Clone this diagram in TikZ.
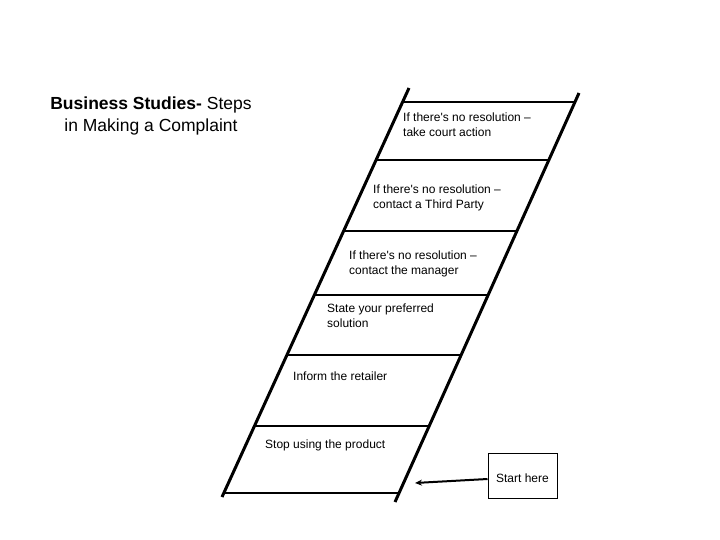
\documentclass[tikz,border=0pt]{standalone}
\usepackage{fontspec}
\setmainfont{Liberation Sans}
\usetikzlibrary{calc,arrows.meta}
\begin{document}
\begin{tikzpicture}[x=1pt,y=-1pt,
  rail/.style={line width=3pt},
  rung/.style={line width=2.8pt},
  steptext/.style={anchor=north west,inner sep=0pt,align=left,font=\fontsize{12}{15}\selectfont},
  startbox/.style={draw,line width=1pt,minimum width=69pt,minimum height=45pt,inner sep=0pt,text height=14pt,text depth=0pt,font=\fontsize{12}{15}\selectfont},
  arr/.style={line width=2pt,-{Stealth[length=7pt,width=6pt]}}]
\useasboundingbox[fill=white] (0,0) rectangle (720,540);
% title
\node[anchor=north,inner sep=0pt,align=center,font=\fontsize{17.5}{22}\selectfont] (title) at (151,97)
  {\textbf{Business Studies-} Steps\\in Making a Complaint};
% rails
\coordinate (lt) at (409,88);
\coordinate (lb) at (222,497);
\coordinate (rt) at (579,93);
\coordinate (rb) at (395,502);
\draw[rail] (lt) -- (lb);
\draw[rail] (rt) -- (rb);
% rungs
\foreach \y in {102,160,231,295,355,426,493}
  \draw[rung] ({409-0.4572*(\y-88)-1},\y) -- ({579-0.4499*(\y-93)+1},\y);
% step texts
\node[steptext] (s6) at (403,113) {If there\textquotesingle s no resolution --\\take court action};
\node[steptext] (s5) at (373,185) {If there\textquotesingle s no resolution --\\contact a Third Party};
\node[steptext] (s4) at (349,251) {If there\textquotesingle s no resolution --\\contact the manager};
\node[steptext] (s3) at (327,304) {State your preferred\\solution};
\node[steptext] (s2) at (293,372) {Inform the retailer};
\node[steptext] (s1) at (265,440) {Stop using the product};
% start box and arrow
\node[startbox] (start) at (522.5,475.5) {Start here};
\coordinate (tip) at (415,483);
\draw[arr] ($(start.west)+(0,3.5)$) -- (tip);
\end{tikzpicture}
\end{document}
